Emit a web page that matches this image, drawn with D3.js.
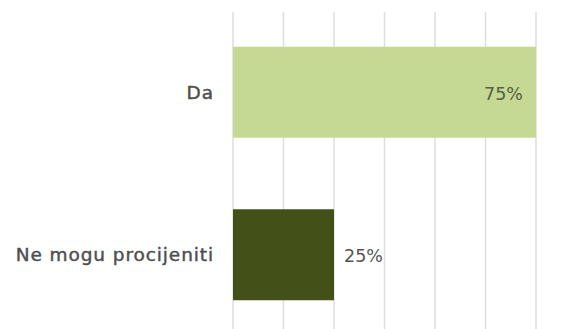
<!DOCTYPE html>
<html>
<head>
<meta charset="utf-8">
<script src="https://cdn.jsdelivr.net/npm/d3@7"></script>
<style>
  html, body { margin: 0; padding: 0; background: #fff; }
  svg { display: block; }
</style>
</head>
<body>
<svg id="chart" width="578" height="329"></svg>
<script>
const categories = ["Da", "Ne mogu procijeniti"];
const values = [75, 25];
const valueLabels = ["75%", "25%"];
const gridTicks = [0, 12.5, 25, 37.5, 50, 62.5, 75];
const barColors = ["#c5d995", "#435118"];

const W = 578, H = 329;
const svg = d3.select("#chart");

const x = d3.scaleLinear().domain([0, 75]).range([233, 536]);
const y = d3.scaleBand().domain(categories).range([11, 336])
  .paddingInner(0.44).paddingOuter(0.22);

// gridlines
svg.append("g").selectAll("line").data(gridTicks).join("line")
  .attr("x1", d => x(d)).attr("x2", d => x(d))
  .attr("y1", 12).attr("y2", H)
  .attr("stroke", "#dedede").attr("stroke-width", 1.5);

// bars
svg.append("g").selectAll("rect").data(values).join("rect")
  .attr("x", x(0))
  .attr("y", (d, i) => y(categories[i]))
  .attr("width", d => x(d) - x(0))
  .attr("height", y.bandwidth())
  .attr("fill", (d, i) => barColors[i]);

// category labels
svg.append("g").selectAll("text").data(categories).join("text")
  .attr("x", x(0) - 19)
  .attr("y", d => y(d) + y.bandwidth() / 2 + 6.3)
  .attr("text-anchor", "end")
  .attr("font-family", "DejaVu Sans, sans-serif")
  .attr("font-size", 18.5)
  .attr("letter-spacing", 0.9)
  .attr("fill", "#4f4f4f")
  .attr("stroke", "#4f4f4f")
  .attr("stroke-width", 0.45)
  .text(d => d);

// value labels
svg.append("g").selectAll("text").data(values).join("text")
  .attr("x", d => d > 50 ? x(d) - 13 : x(d) + 10)
  .attr("y", (d, i) => y(categories[i]) + y.bandwidth() / 2 + 7.5)
  .attr("text-anchor", d => d > 50 ? "end" : "start")
  .attr("font-family", "DejaVu Sans, sans-serif")
  .attr("font-weight", 400)
  .attr("font-size", 17.5)
  .attr("fill", (d, i) => i === 0 ? "#56603f" : "#555555")
  .text((d, i) => valueLabels[i]);
</script>
</body>
</html>
